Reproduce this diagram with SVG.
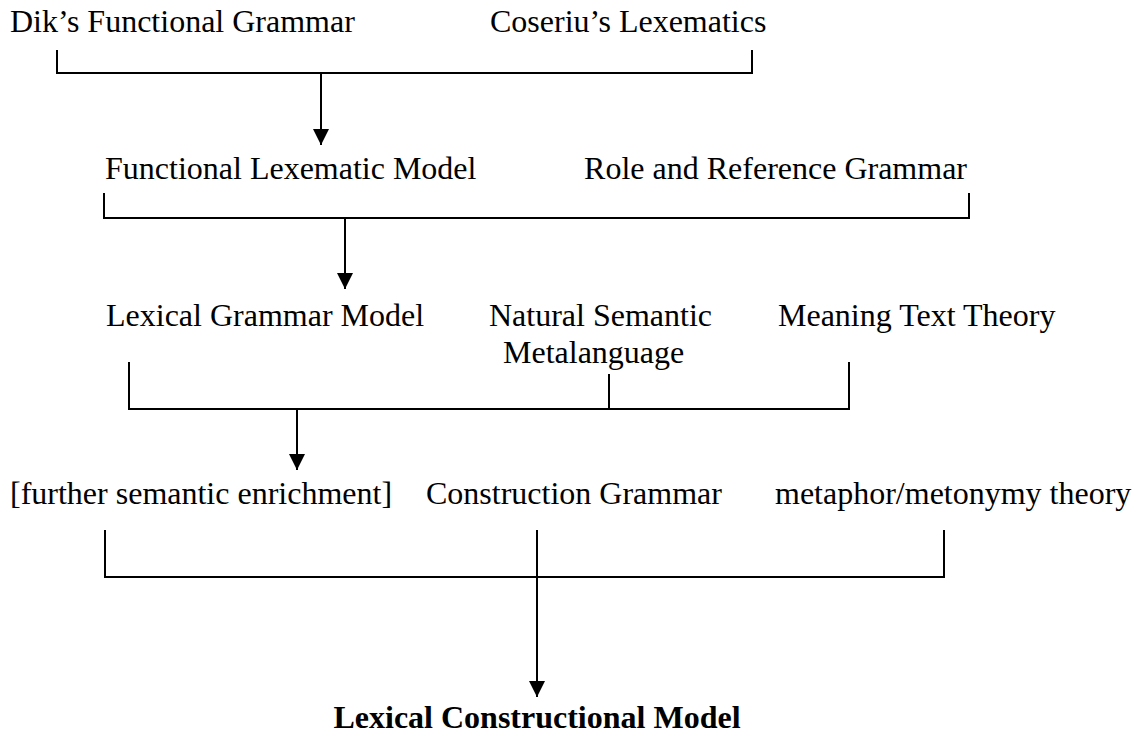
<svg xmlns="http://www.w3.org/2000/svg" width="1140" height="738" viewBox="0 0 1140 738">
<style>
text{font-family:"Liberation Serif","Times New Roman",serif;font-size:32px;fill:#000}
.b{font-weight:bold}
.c{fill:none;stroke:#000;stroke-width:2}
</style>
<defs>
<marker id="ah" markerUnits="userSpaceOnUse" markerWidth="16" markerHeight="16" refX="16" refY="8" orient="auto">
<path d="M0,0 L16,8 L0,16 Z" fill="#000"/>
</marker>
</defs>
<rect width="1140" height="738" fill="#fff"/>
<g id="connectors">
<path class="c" d="M57,50 V73 H752 V50"/>
<path class="c" d="M321,73 V145" marker-end="url(#ah)"/>
<path class="c" d="M104,193 V218 H969 V193"/>
<path class="c" d="M345,218 V289" marker-end="url(#ah)"/>
<path class="c" d="M129,362 V409 H849 V362"/>
<path class="c" d="M609,374 V409"/>
<path class="c" d="M297,409 V470" marker-end="url(#ah)"/>
<path class="c" d="M105,530 V577 H944 V530"/>
<path class="c" d="M537,530 V697" marker-end="url(#ah)"/>
</g>
<g id="dik"><text x="10" y="32">Dik’s Functional Grammar</text></g>
<g id="coseriu"><text x="490" y="32">Coseriu’s Lexematics</text></g>
<g id="flm"><text x="105" y="179">Functional Lexematic Model</text></g>
<g id="rrg"><text x="967" y="179" text-anchor="end">Role and Reference Grammar</text></g>
<g id="lgm"><text x="106" y="326">Lexical Grammar Model</text></g>
<g id="nsm"><text x="489" y="326">Natural Semantic</text><text x="503" y="363">Metalanguage</text></g>
<g id="mtt"><text x="778" y="326">Meaning Text Theory</text></g>
<g id="fse"><text x="10" y="504">[further semantic enrichment]</text></g>
<g id="cg"><text x="426" y="504">Construction Grammar</text></g>
<g id="mmt"><text x="775" y="504">metaphor/metonymy theory</text></g>
<g id="lcm"><text class="b" x="537" y="728" text-anchor="middle">Lexical Constructional Model</text></g>
</svg>
